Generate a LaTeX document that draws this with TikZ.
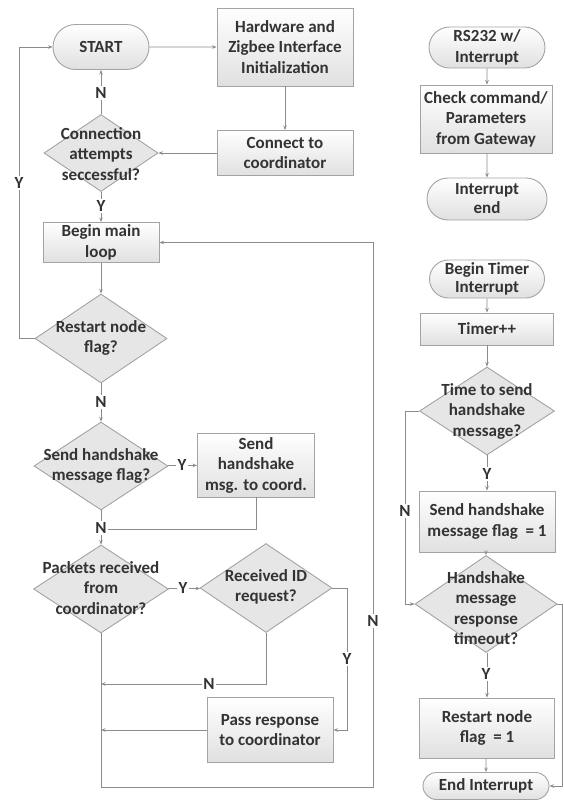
\documentclass[tikz,border=0pt]{standalone}
\usepackage{fontspec}
\setmainfont{Carlito}
\usetikzlibrary{shapes.geometric,shapes.misc,arrows.meta}
\definecolor{txt}{HTML}{333333}
\definecolor{edge}{HTML}{A3A3A3}
\definecolor{wire}{HTML}{8C8C8C}
\definecolor{shadeb}{HTML}{E0E0E0}
\definecolor{dfill}{HTML}{E6E6E6}
\begin{document}
\begin{tikzpicture}[x=1pt,y=-1pt,
  font=\fontsize{17}{20.5}\selectfont\bfseries, text=txt,
  box/.style={rectangle, draw=edge, line width=0.9pt, top color=white,
    bottom color=shadeb, inner sep=0pt, align=center},
  term/.style={rounded rectangle, draw=edge, line width=0.9pt, top color=white,
    bottom color=shadeb, inner sep=0pt, align=center},
  decision/.style={diamond, draw=edge, line width=0.9pt, fill=dfill, inner sep=0pt},
  dtext/.style={align=center, inner sep=0pt},
  flow/.style={draw=wire, line width=0.8pt, -{Stealth[length=4.5pt,width=3.5pt]}},
  plain/.style={draw=wire, line width=0.8pt},
  lbl/.style={fill=white, inner sep=1.2pt}]
\useasboundingbox (0,0) rectangle (564,801);

% ---------------- main program ----------------
\node[term, minimum width=96pt, minimum height=45pt] (start) at (101,47) {START};
\node[box, minimum width=136pt, minimum height=78pt] (hw) at (285,47)
  {Hardware and\\Zigbee Interface\\Initialization};
\node[box, minimum width=136pt, minimum height=45pt] (conn) at (285,153)
  {Connect to\\coordinator};
\node[decision, minimum width=114pt, minimum height=77pt] (cdec) at (101,153) {};
\node[dtext] (cdec-t) at (101,154) {Connection\\attempts\\seccessful?};
\node[box, minimum width=116pt, minimum height=40pt] (loop) at (101,242.5)
  {Begin main\\loop};
\node[decision, minimum width=132pt, minimum height=89pt] (rdec) at (101,338.5) {};
\node[dtext] (rdec-t) at (101,338) {Restart node\\flag?};
\node[decision, minimum width=134pt, minimum height=88pt] (sdec) at (101,466) {};
\node[dtext] (sdec-t) at (101,466) {Send handshake\\message flag?};
\node[box, minimum width=117pt, minimum height=64pt] (smsg) at (256,465)
  {Send\\handshake\\msg. to coord.};
\node[decision, minimum width=135pt, minimum height=88pt] (pdec) at (101,589) {};
\node[dtext] (pdec-t) at (101,588) {Packets received\\from\\coordinator?};
\node[decision, minimum width=132pt, minimum height=89pt] (iddec) at (266,588) {};
\node[dtext] (iddec-t) at (266,587) {Received ID\\request?};
\node[box, minimum width=126pt, minimum height=65pt] (pass) at (270,730)
  {Pass response\\to coordinator};

\coordinate (yturn) at (19,338.5);
\coordinate (join) at (101,529);
\coordinate (nret) at (101,684);
\coordinate (yret) at (101,730);
\coordinate (idturn) at (347,588);
\coordinate (low) at (101,787);
\coordinate (lowr) at (373,787);

\draw[flow] (start) -- (hw);
\draw[flow] (hw) -- (conn);
\draw[flow] (conn) -- (cdec);
\draw[flow] (cdec) -- (start);
\draw[flow] (cdec) -- (loop);
\draw[flow] (loop) -- (rdec);
\draw[flow] (rdec.west) -- (yturn) |- (start.west);
\draw[flow] (rdec) -- (sdec);
\draw[flow] (sdec) -- (smsg);
\draw[plain] (smsg.south) |- (join);
\draw[flow] (sdec) -- (pdec);
\draw[flow] (pdec) -- (iddec);
\draw[flow] (iddec.south) |- (nret);
\draw[flow] (iddec.east) -- (idturn) |- (pass.east);
\draw[flow] (pass.west) -- (yret);
\draw[flow] (pdec.south) -- (low) -- (lowr) |- (loop.east);

\node[lbl] (l-n1) at (101,93) {N};
\node[lbl] (l-y1) at (101,206) {Y};
\node[lbl] (l-y2) at (19,183) {Y};
\node[lbl] (l-n2) at (101,402) {N};
\node[lbl] (l-y3) at (182,465) {Y};
\node[lbl] (l-n3) at (101,528) {N};
\node[lbl] (l-y4) at (183,588) {Y};
\node[lbl] (l-n4) at (209,684) {N};
\node[lbl] (l-y5) at (347,659) {Y};
\node[lbl] (l-n5) at (373,621) {N};

% ---------------- RS232 interrupt ----------------
\node[term, minimum width=116pt, minimum height=41pt] (rs) at (487,47.5)
  {RS232 w/\\Interrupt};
\node[box, minimum width=132pt, minimum height=68pt] (chk) at (486,119)
  {Check command/\\Parameters\\from Gateway};
\node[term, minimum width=120pt, minimum height=42pt,
  font=\fontsize{17}{19}\selectfont\bfseries] (iend) at (487,199) {Interrupt\\end};
\draw[flow] (rs) -- (rs |- chk.north);
\draw[flow] (chk.south -| iend) -- (iend);

% ---------------- timer interrupt ----------------
\node[term, minimum width=115pt, minimum height=38pt,
  font=\fontsize{17}{18}\selectfont\bfseries] (bt) at (487,279)
  {Begin Timer\\Interrupt};
\node[box, minimum width=133pt, minimum height=32pt] (tpp) at (487,329) {Timer++};
\node[decision, minimum width=135pt, minimum height=88pt] (tdec) at (487,411) {};
\node[dtext] (tdec-t) at (487,411) {Time to send\\handshake\\message?};
\node[box, minimum width=136pt, minimum height=61pt] (sflag) at (487,521.5)
  {Send handshake\\message flag~~= 1};
\node[decision, minimum width=142pt, minimum height=97pt] (hdec) at (486,604) {};
\node[dtext] (hdec-t) at (486,608) {Handshake\\message\\response\\timeout?};
\node[box, minimum width=135pt, minimum height=60pt] (rflag) at (487,728)
  {Restart node\\flag~~= 1};
\node[term, minimum width=126pt, minimum height=27pt] (eint) at (486,786)
  {End Interrupt};

\coordinate (nturn) at (405,411);
\coordinate (eturn) at (562,604);

\draw[flow] (bt) -- (tpp);
\draw[flow] (tpp) -- (tdec);
\draw[flow] (tdec) -- (sflag);
\draw[flow] (sflag.south -| hdec) -- (hdec);
\draw[flow] (tdec.west) -- (nturn) |- (hdec.west);
\draw[flow] (hdec.south -| rflag) -- (rflag);
\draw[flow] (rflag.south -| eint) -- (eint);
\draw[flow] (hdec.east) -- (eturn) |- (eint.east);

\node[lbl] (l-y6) at (487,474) {Y};
\node[lbl] (l-n6) at (405,511) {N};
\node[lbl] (l-y7) at (486,674) {Y};
\end{tikzpicture}
\end{document}
